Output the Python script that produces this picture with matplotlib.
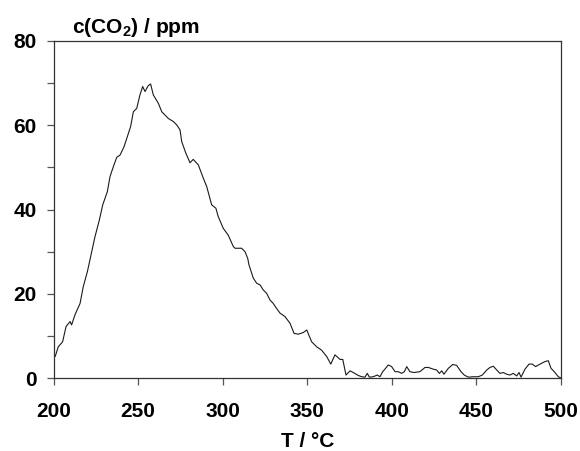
import matplotlib
matplotlib.use("Agg")
import matplotlib.pyplot as plt
from matplotlib.ticker import MultipleLocator

plt.rcParams['font.family'] = ['Liberation Sans', 'DejaVu Sans']
plt.rcParams['mathtext.fontset'] = 'custom'
plt.rcParams['mathtext.bf'] = 'Liberation Sans:bold'
plt.rcParams['mathtext.rm'] = 'Liberation Sans:bold'
plt.rcParams['mathtext.default'] = 'bf'

# Data
temperature = [200, 201, 202.8, 205.4, 207.4, 209.8, 210.7, 212.7, 215.7, 217.6, 220, 222.6,
               224.5, 227.1, 229.1, 231.8, 233.4, 235.4, 237.4, 239.3, 241.7, 243.3, 245.6,
               247.2, 249.2, 251.1, 252.7, 254.1, 256.0, 257.4, 259, 262, 264, 267.9, 270.8,
               272.8, 274.8, 275.8, 278.3, 280.7, 282.6, 285.6, 288.6, 290.6, 293.5, 296,
               297.4, 300.4, 303.3, 306.3, 307.3, 311.2, 313.2, 314.8, 315.6, 317.1, 318.1,
               320.1, 322.1, 324, 326, 328, 329.9, 331.9, 333.9, 336.8, 339.8, 342.2, 344.7,
               347.7, 349.7, 352.6, 355.6, 358.5, 361.5, 363.9, 366.4, 369.4, 371, 372.9,
               375.3, 377.2, 380.2, 382.2, 384.1, 385.5, 386.7, 389, 391.4, 393, 394.6, 395.9,
               397.9, 399.9, 401.9, 403.8, 405.8, 407.4, 408.8, 410.7, 413.1, 416.6, 419.6,
               421.6, 424.5, 426.5, 428.1, 429.5, 430.8, 433.4, 436, 438.3, 440.9, 442.8,
               445.2, 448.2, 451.1, 453.5, 456.1, 458, 460, 462, 463.9, 465.9, 467.9, 469.8,
               471.8, 473.8, 475.2, 476.4, 478.7, 481.1, 483, 485, 487.6, 490.5, 492.5, 494.1,
               496, 498.4, 500]
co2_ppm = [5.9, 5.1, 7.4, 8.6, 12.2, 13.4, 12.6, 15.0, 17.7, 21.7, 25.2, 30.0,
           33.5, 37.5, 41.1, 44.2, 47.8, 50.2, 52.4, 52.9, 54.9, 56.9, 59.7,
           63.2, 64.0, 67.2, 69.2, 68.0, 69.4, 69.8, 67.2, 65.2, 63.2, 61.6, 60.9,
           60.1, 58.9, 56.1, 53.3, 51.1, 51.9, 50.6, 47.4, 45.4, 41.1, 40.3,
           38.3, 35.5, 33.9, 31.2, 30.8, 30.8, 30.0, 28.4, 26.8, 24.9, 23.7,
           22.5, 22.1, 20.9, 20.1, 18.5, 17.7, 16.5, 15.4, 14.6, 13.0, 10.6, 10.4,
           10.8, 11.4, 8.6, 7.4, 6.6, 5.1, 3.3, 5.5, 4.4, 4.4, 0.7,
           1.7, 1.3, 0.6, 0.3, 0.2, 1.1, 0.2, 0.3, 0.7, 0.3, 1.5, 2.1,
           3.1, 2.7, 1.5, 1.5, 1.1, 1.5, 2.7, 1.5, 1.3, 1.5, 2.5,
           2.5, 2.1, 1.9, 1.1, 1.7, 0.9, 2.3, 3.2, 3.0, 1.5, 0.7,
           0.2, 0.3, 0.3, 0.7, 1.9, 2.5, 2.8, 1.9, 1.1, 1.3, 0.9, 0.7,
           1.1, 0.5, 1.3, 0.2, 2.1, 3.3, 3.3, 2.7, 3.3, 3.9, 4.1, 2.3,
           1.5, 0.3, 0.0]

x_ticks = [200, 250, 300, 350, 400, 450, 500]
y_ticks = [0, 20, 40, 60, 80]

fig = plt.figure(figsize=(5.8, 4.51), dpi=100)
ax = fig.add_axes([53.5 / 580, 73 / 451, (561 - 53.5) / 580, (378 - 41) / 451])

ax.plot(temperature, co2_ppm, color='#1a1a1a', linewidth=0.8)

ax.set_xlim(200, 500)
ax.set_ylim(0, 80)
ax.set_xticks(x_ticks)
ax.set_yticks(y_ticks)
ax.yaxis.set_minor_locator(MultipleLocator(10))

for sp in ax.spines.values():
    sp.set_color('#333333')
    sp.set_linewidth(0.9)

ax.tick_params(axis='both', which='both', direction='out', length=5, width=0.9,
               color='#555555')
ax.tick_params(axis='x', which='major', pad=12)
ax.tick_params(axis='y', which='major', pad=7)
for lab in ax.get_xticklabels() + ax.get_yticklabels():
    lab.set_fontsize(15)
    lab.set_fontweight('bold')

ax.set_xlabel('T / °C', fontsize=15, fontweight='bold', labelpad=8)
fig.text(72 / 580, 1 - 33 / 451, 'c(CO$_2$) / ppm', fontsize=15, fontweight='bold',
         ha='left', va='baseline')

fig.savefig('out.png', dpi=100)
